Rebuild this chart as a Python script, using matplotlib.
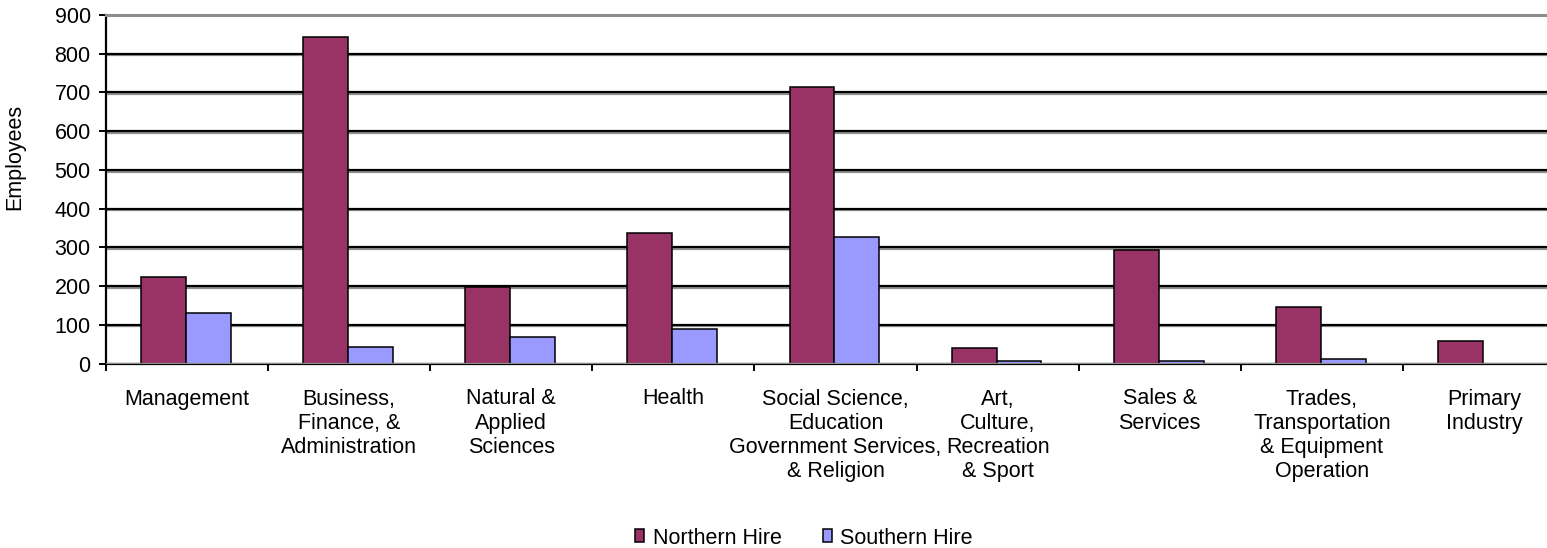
import matplotlib

matplotlib.use("Agg")
import matplotlib.pyplot as plt
import matplotlib.patheffects as pe
from matplotlib.patches import Patch
import numpy as np

categories = [
    "Management",
    "Business,\nFinance, &\nAdministration",
    "Natural &\nApplied\nSciences",
    "Health",
    "Social Science,\nEducation\nGovernment Services,\n& Religion",
    "Art,\nCulture,\nRecreation\n& Sport",
    "Sales &\nServices",
    "Trades,\nTransportation\n& Equipment\nOperation",
    "Primary\nIndustry",
]
northern_hire = [224, 844, 198, 337, 714, 39, 293, 146, 59]
southern_hire = [131, 43, 69, 89, 327, 6, 6, 12, 0]
y_ticks = [0, 100, 200, 300, 400, 500, 600, 700, 800, 900]

NORTH_COLOR = "#993366"
SOUTH_COLOR = "#9999FF"
FONT = 15.5

plt.rcParams["font.family"] = ["Liberation Sans", "DejaVu Sans"]
plt.rcParams["font.size"] = FONT

fig = plt.figure(figsize=(15.47, 5.48), dpi=100)
ax = fig.add_axes([106 / 1547, 1 - 363.5 / 548, (1565 - 106) / 1547, (363.5 - 15) / 548])

x = np.arange(len(categories))
width = 0.277
ax.bar(x - 0.145, northern_hire, width, color=NORTH_COLOR, edgecolor="black",
       linewidth=1.1, zorder=3)
ax.bar(x + 0.132, southern_hire, width, color=SOUTH_COLOR, edgecolor="black",
       linewidth=1.1, zorder=3)

# gridlines with the grey drop shadow
for val in y_ticks[1:-1]:
    ax.axhline(val, color="black", linewidth=1.6, zorder=1,
               path_effects=[pe.SimpleLineShadow(offset=(0, -1.2), shadow_color="#909090",
                                                 alpha=1.0), pe.Normal()])
ax.axhline(0, color="#8c8c8c", linewidth=1.6, zorder=4,
           path_effects=[pe.Normal()])

ax.set_xlim(-0.5, len(categories) - 0.5)
ax.set_ylim(0, 900)
ax.set_yticks(y_ticks)
ax.tick_params(axis="y", direction="out", length=5, width=1.4, pad=6, labelsize=FONT)

ax.set_xticks(np.arange(len(categories) + 1) - 0.5)
ax.set_xticklabels([])
ax.tick_params(axis="x", which="major", direction="out", length=5, width=1.4)
ax.set_xticks(x, minor=True)
ax.set_xticklabels(categories, minor=True, fontsize=FONT, linespacing=1.2)
ax.tick_params(axis="x", which="minor", length=0, pad=18)

ax.spines["left"].set_linewidth(1.6)
ax.spines["bottom"].set_linewidth(1.6)
ax.spines["top"].set_color("#8c8c8c")
ax.spines["top"].set_linewidth(2.2)
ax.spines["right"].set_visible(False)

fig.text(15 / 1547, 1 - 157 / 548, "Employees", rotation=90, ha="center", va="center",
         fontsize=FONT)

handles = [
    Patch(facecolor=NORTH_COLOR, edgecolor="black", linewidth=1.1, label="Northern Hire"),
    Patch(facecolor=SOUTH_COLOR, edgecolor="black", linewidth=1.1, label="Southern Hire"),
]
fig.legend(handles=handles, loc="center", bbox_to_anchor=(804 / 1547, 1 - 538 / 548),
           ncol=2, frameon=False, fontsize=FONT, handlelength=0.42, handleheight=0.55,
           handletextpad=0.4, columnspacing=1.9, borderaxespad=0, borderpad=0)

fig.savefig("out.png", dpi=100)
